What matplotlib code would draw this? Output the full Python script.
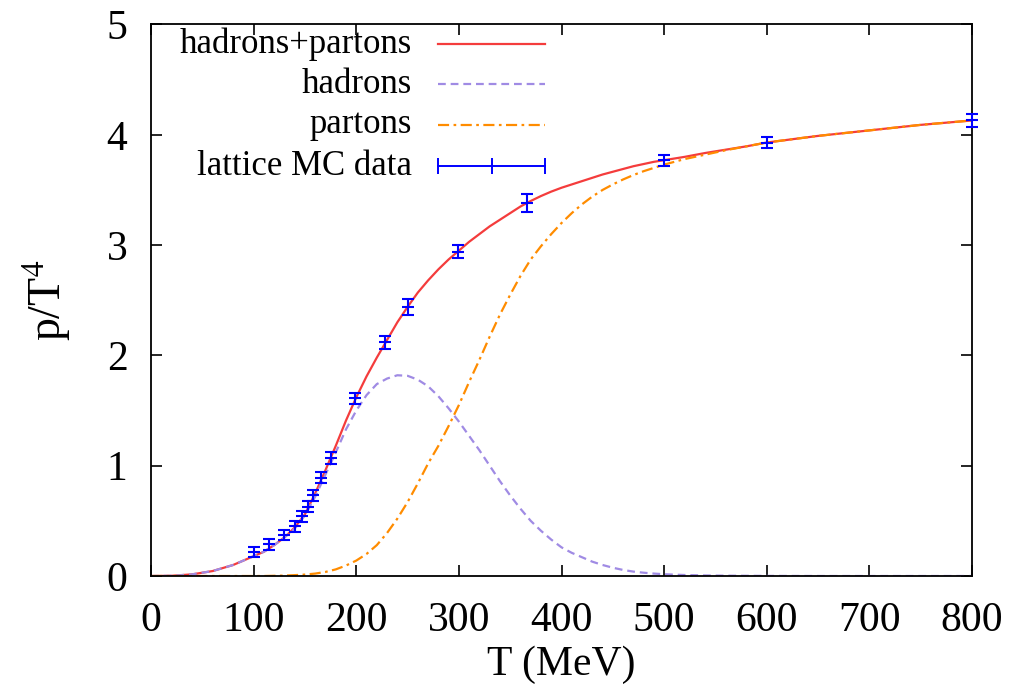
import numpy as np
import matplotlib
matplotlib.use("Agg")
import matplotlib.pyplot as plt

# temperature grid (MeV) on which the model curves were tabulated
T_curve = [0, 20, 40, 60, 80, 100, 110, 120, 130, 140, 150, 160, 170, 180, 190,
           200, 210, 220, 230, 240, 250, 260, 270, 280, 290, 300, 310, 320, 330,
           340, 350, 360, 370, 380, 390, 400, 410, 420, 430, 440, 450, 460, 470,
           480, 490, 500, 520, 540, 560, 580, 600, 650, 700, 750, 800]
# p/T^4 : hadron + parton total
p_total = [0, 0.002, 0.015, 0.045, 0.10, 0.18, 0.22, 0.28, 0.35, 0.44, 0.56,
           0.75, 0.96, 1.18, 1.41, 1.62, 1.81, 1.98, 2.14, 2.30, 2.44, 2.57,
           2.68, 2.78, 2.87, 2.95, 3.03, 3.10, 3.17, 3.23, 3.29, 3.35, 3.40,
           3.445, 3.485, 3.52, 3.55, 3.58, 3.61, 3.64, 3.665, 3.69, 3.715, 3.735,
           3.755, 3.77, 3.80, 3.835, 3.865, 3.895, 3.93, 3.99, 4.04, 4.09, 4.13]
# hadronic contribution
p_hadrons = [0, 0.002, 0.015, 0.045, 0.10, 0.18, 0.22, 0.28, 0.35, 0.43, 0.55,
             0.72, 0.92, 1.12, 1.33, 1.50, 1.64, 1.74, 1.79, 1.82, 1.815, 1.78,
             1.72, 1.63, 1.52, 1.40, 1.27, 1.14, 1.00, 0.86, 0.73, 0.61, 0.50,
             0.41, 0.33, 0.26, 0.21, 0.17, 0.13, 0.10, 0.075, 0.055, 0.04, 0.03,
             0.022, 0.016, 0.009, 0.005, 0.003, 0.002, 0.001, 0, 0, 0, 0]
# partonic contribution
p_partons = [0, 0, 0, 0, 0, 0, 0, 0.002, 0.004, 0.008, 0.013, 0.022, 0.037,
             0.06, 0.095, 0.14, 0.20, 0.28, 0.39, 0.52, 0.67, 0.84, 1.02, 1.18,
             1.36, 1.55, 1.76, 1.96, 2.17, 2.37, 2.55, 2.72, 2.87, 2.99, 3.10,
             3.20, 3.29, 3.37, 3.44, 3.50, 3.55, 3.595, 3.635, 3.67, 3.70, 3.73,
             3.78, 3.82, 3.86, 3.895, 3.93, 3.99, 4.04, 4.09, 4.13]

# lattice Monte Carlo points
T_lat = [100, 115, 130, 140, 147, 153, 158, 166, 175, 199, 228, 250, 299, 366,
         500, 600, 800]
p_lat = [0.22, 0.29, 0.37, 0.45, 0.54, 0.63, 0.73, 0.89, 1.07, 1.61, 2.12,
         2.44, 2.94, 3.38, 3.77, 3.93, 4.13]
p_err = [0.045, 0.05, 0.045, 0.05, 0.05, 0.05, 0.05, 0.05, 0.05, 0.05, 0.06,
         0.07, 0.06, 0.08, 0.05, 0.05, 0.06]

plt.rcParams['font.family'] = ['Liberation Serif', 'DejaVu Serif']
plt.rcParams['mathtext.fontset'] = 'stix'

fig = plt.figure(figsize=(10.09, 6.96), dpi=100)
ax = fig.add_axes([0.1497, 0.1724, 0.8136, 0.7924])

red = '#f43c3c'
purple = '#a08be4'
orange = '#ff8c00'
blue = '#0000ff'

ax.plot(T_curve, p_total, '-', color=red, lw=1.6)
ax.plot(T_curve, p_hadrons, color=purple, lw=1.6, dashes=(3.5, 2.2))
ax.plot(T_curve, p_partons, color=orange, lw=1.6, dashes=(5, 2, 1.2, 2))
ax.errorbar(T_lat, p_lat, yerr=p_err, fmt='_', color=blue, ms=8, mew=1.5,
            elinewidth=1.5, capsize=4.5, capthick=1.5, clip_on=False, zorder=5)

ax.set_xlim(0, 800)
ax.set_ylim(0, 5)
ax.set_xticks(range(0, 801, 100))
ax.set_yticks(range(0, 6))
ax.tick_params(direction='in', length=8, width=1.2, top=True, right=True,
               labelsize=30)
ax.tick_params(axis='x', pad=18)
ax.tick_params(axis='y', pad=17)
for s in ax.spines.values():
    s.set_linewidth(1.3)

ax.set_xlabel('T (MeV)', fontsize=30, labelpad=4)
ax.set_ylabel('p/T$^4$', fontsize=33)
ax.yaxis.set_label_coords(-0.095, 0.50)

# gnuplot-style key: right-aligned text followed by the line sample
key_x_text = 0.318
key_x0, key_x1 = 0.350, 0.480
rows = [0.965, 0.892, 0.818, 0.743]
labels = ['hadrons+partons', 'hadrons', 'partons', 'lattice MC data']
for y, lab in zip(rows, labels):
    ax.text(key_x_text, y, lab, transform=ax.transAxes, ha='right',
            va='center', fontsize=25)
kw = dict(transform=ax.transAxes, lw=1.6)
ax.plot([key_x0, key_x1], [rows[0]] * 2, '-', color=red, **kw)
ax.plot([key_x0, key_x1], [rows[1]] * 2, color=purple, dashes=(3.5, 2.2), **kw)
ax.plot([key_x0, key_x1], [rows[2]] * 2, color=orange, dashes=(5, 2, 1.2, 2), **kw)
ax.plot([key_x0, (key_x0 + key_x1) / 2, key_x1], [rows[3]] * 3, '-', color=blue,
        marker='|', ms=12, mew=1.4, transform=ax.transAxes, lw=1.4)

fig.savefig('out.png', dpi=100)
